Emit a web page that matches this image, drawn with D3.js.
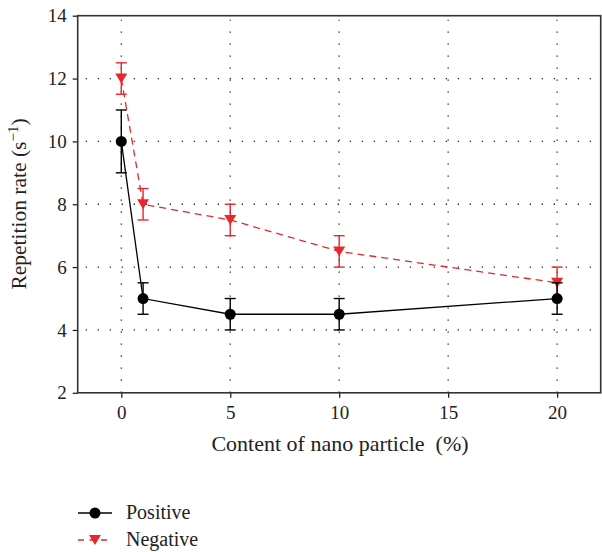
<!DOCTYPE html>
<html>
<head>
<meta charset="utf-8">
<script src="https://cdn.jsdelivr.net/npm/d3@7"></script>
</head>
<body style="margin:0;background:#fff">
<svg id="chart" width="602" height="552" font-family="Liberation Serif"></svg>
<script>
// Content of nano particle (%)
const contents = [0, 1, 5, 10, 20];
// Repetition rate (s^-1) with error bar half-widths
const positiveRate = [10, 5, 4.5, 4.5, 5];
const positiveErr = [1, 0.5, 0.5, 0.5, 0.5];
const negativeRate = [12, 8, 7.5, 6.5, 5.5];
const negativeErr = [0.5, 0.5, 0.5, 0.5, 0.5];

const xTicks = [0, 5, 10, 15, 20];
const yTicks = [2, 4, 6, 8, 10, 12, 14];
const yGrid = [4, 6, 8, 10, 12];

const red = "#e8262b";
const serif = "Liberation Serif";
const svg = d3.select("#chart");

const plotLeft = 77.7, plotRight = 600.7, plotTop = 15.7, plotBottom = 392.8;
const x = d3.scaleLinear().domain([-2, 22]).range([plotLeft, plotRight]);
const y = d3.scaleLinear().domain([2, 14]).range([plotBottom, plotTop]);

// dotted grid
const grid = svg.append("g").attr("stroke", "#222").attr("stroke-width", 1.3)
  .attr("stroke-dasharray", "1.3,10.7");
grid.selectAll("line.gx").data(xTicks).join("line")
  .attr("x1", d => x(d)).attr("x2", d => x(d))
  .attr("y1", plotBottom).attr("y2", plotTop + 4);
grid.selectAll("line.gy").data(yGrid).join("line")
  .attr("y1", d => y(d)).attr("y2", d => y(d))
  .attr("x1", plotLeft + 8).attr("x2", plotRight);

// axes
const xAxis = svg.append("g").attr("transform", `translate(0,${plotBottom})`)
  .call(d3.axisBottom(x).tickValues(xTicks).tickSize(5).tickPadding(8));
const yAxis = svg.append("g").attr("transform", `translate(${plotLeft},0)`)
  .call(d3.axisLeft(y).tickValues(yTicks).tickSize(5).tickPadding(6));
[xAxis, yAxis].forEach(a => {
  a.attr("font-family", serif).attr("font-size", 19);
  a.select(".domain").remove();
  a.selectAll(".tick line").attr("stroke", "#222").attr("stroke-width", 1.3);
  a.selectAll(".tick text").attr("fill", "#222").attr("font-family", serif);
});

// frame
svg.append("rect").attr("x", plotLeft).attr("y", plotTop)
  .attr("width", plotRight - plotLeft).attr("height", plotBottom - plotTop)
  .attr("fill", "none").attr("stroke", "#333").attr("stroke-width", 1.6);

// series: connecting line, error bars with caps, markers
function drawSeries(vals, errs, color, dash, marker) {
  const g = svg.append("g");
  const line = d3.line().x((d, i) => x(contents[i])).y(d => y(d));
  g.append("path").datum(vals).attr("d", line)
    .attr("fill", "none").attr("stroke", color).attr("stroke-width", 1.3)
    .attr("stroke-dasharray", dash);
  const eb = g.selectAll("g.err").data(vals).join("g").attr("stroke", color).attr("stroke-width", 1.4);
  eb.append("line").attr("x1", (d, i) => x(contents[i])).attr("x2", (d, i) => x(contents[i]))
    .attr("y1", (d, i) => y(d - errs[i])).attr("y2", (d, i) => y(d + errs[i]));
  [1, -1].forEach(s => {
    eb.append("line").attr("x1", (d, i) => x(contents[i]) - 5.5).attr("x2", (d, i) => x(contents[i]) + 5.5)
      .attr("y1", (d, i) => y(d + s * errs[i])).attr("y2", (d, i) => y(d + s * errs[i]));
  });
  g.selectAll("path.m").data(vals).join("path")
    .attr("transform", (d, i) => `translate(${x(contents[i])},${y(d)})`)
    .attr("d", marker).attr("fill", color);
}
const circle = d3.symbol(d3.symbolCircle, 95)();
const triDown = "M-6,-5L6,-5L0,5Z";
drawSeries(negativeRate, negativeErr, red, "7,5", triDown);
drawSeries(positiveRate, positiveErr, "#000", null, circle);

// axis titles
svg.append("text").attr("x", 340).attr("y", 451).attr("text-anchor", "middle")
  .attr("font-size", 22).attr("fill", "#222").attr("font-family", serif)
  .text("Content of nano particle\u2002(%)");
const yl = svg.append("text").attr("transform", "translate(26,204) rotate(-90)")
  .attr("text-anchor", "middle").attr("font-size", 21.5).attr("fill", "#222").attr("font-family", serif);
yl.append("tspan").text("Repetition rate (s");
yl.append("tspan").attr("dy", -8).attr("font-size", 15).text("\u22121");
yl.append("tspan").attr("dy", 8).text(")");

// legend
const legend = [
  { label: "Positive", color: "#000", dash: null, marker: circle, y: 513 },
  { label: "Negative", color: red, dash: "7,5", marker: triDown, y: 540 }
];
const lg = svg.append("g");
legend.forEach(l => {
  lg.append("line").attr("x1", 78).attr("x2", 112).attr("y1", l.y).attr("y2", l.y)
    .attr("stroke", l.color).attr("stroke-width", 1.3).attr("stroke-dasharray", l.dash ? "6,5.5" : null);
  lg.append("path").attr("transform", `translate(95,${l.y})`).attr("d", l.marker).attr("fill", l.color);
  lg.append("text").attr("x", 126).attr("y", l.y + 6).attr("font-size", 20).attr("fill", "#222")
    .attr("font-family", serif).text(l.label);
});
</script>
</body>
</html>
